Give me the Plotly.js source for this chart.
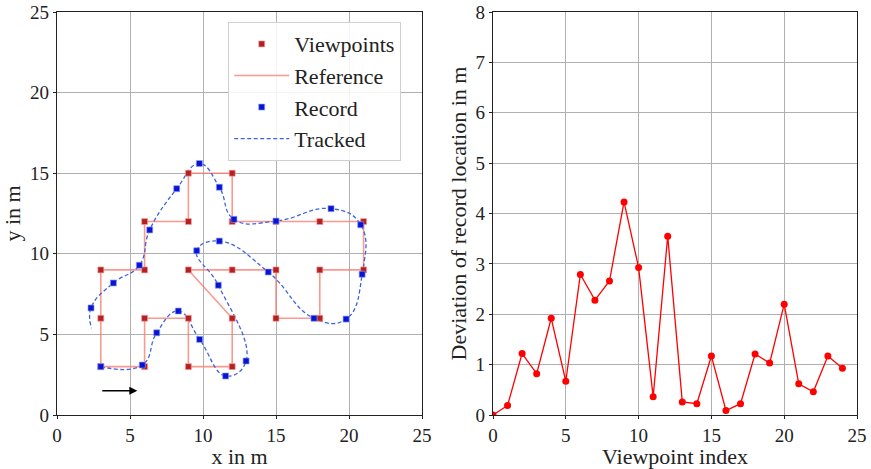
<!DOCTYPE html>
<html>
<head>
<meta charset="utf-8">
<script src="https://cdn.plot.ly/plotly-3.0.1.min.js"></script>
<style>html,body{margin:0;padding:0;background:#fff;}#chart{width:871px;height:469px;}</style>
</head>
<body>
<div id="chart"></div>
<script>
// Viewpoints (reference route, closed loop)
const vpX = [3,6,6,9,9,12,12,9,12,15,15,18,18,21,21,18,15,12,12,9,9,6,6,3,3];
const vpY = [3,3,6,6,3,3,6,9,9,9,6,6,9,9,12,12,12,12,15,15,12,12,9,9,6];
// Record locations
const recX = [3.0,5.84,6.83,8.31,9.77,11.55,12.95,11.05,9.57,11.12,14.47,17.6,19.8,20.9,20.8,18.77,15.0,12.12,11.12,9.75,8.2,6.35,5.64,3.86,2.33];
const recY = [3.0,3.1,5.1,6.45,4.69,2.42,3.35,8.05,10.19,10.79,8.87,6.0,5.95,8.73,11.8,12.8,12.03,12.14,14.13,15.6,14.04,11.48,9.29,8.19,6.64];
// Tracked trajectory end
const tailX = [2.37];
const tailY = [5.38];
// Deviation per viewpoint index
const vpIndex = [0,1,2,3,4,5,6,7,8,9,10,11,12,13,14,15,16,17,18,19,20,21,22,23,24];
const deviation = [0,0.19,1.22,0.82,1.92,0.67,2.79,2.28,2.66,4.23,2.93,0.36,3.55,0.26,0.225,1.17,0.09,0.225,1.21,1.03,2.2,0.62,0.46,1.17,0.93];

const refX = vpX.concat([vpX[0]]);
const refY = vpY.concat([vpY[0]]);
const trkX = recX.concat(tailX);
const trkY = recY.concat(tailY);

const FONT = "Liberation Serif, Times New Roman, serif";
const TRK = {color: '#3c64e0', width: 1.3, dash: '4px,2.5px'};

const traces = [
  {x: refX, y: refY, mode: 'lines', name: 'Reference', line: {color: 'rgba(248,120,105,0.75)', width: 1.6}, xaxis: 'x', yaxis: 'y', showlegend: false},
  {x: trkX, y: trkY, mode: 'lines', name: 'Tracked', line: Object.assign({}, TRK, {shape: 'spline', smoothing: 1.3}), xaxis: 'x', yaxis: 'y', showlegend: false},
  {x: vpX, y: vpY, mode: 'markers', name: 'Viewpoints', marker: {symbol: 'square', size: 6, color: '#b22222', line: {color: 'rgba(255,160,160,0.8)', width: 0.8}}, xaxis: 'x', yaxis: 'y'},
  {x: [null], y: [null], mode: 'lines', name: 'Reference', line: {color: 'rgba(248,120,105,0.75)', width: 1.6}, xaxis: 'x', yaxis: 'y'},
  {x: recX, y: recY, mode: 'markers', name: 'Record', marker: {symbol: 'square', size: 6, color: '#0a14d0', line: {color: 'rgba(140,160,255,0.8)', width: 0.8}}, xaxis: 'x', yaxis: 'y'},
  {x: [null], y: [null], mode: 'lines', name: 'Tracked', line: TRK, xaxis: 'x', yaxis: 'y'},
  {x: vpIndex, y: deviation, mode: 'lines+markers', name: 'Deviation', line: {color: '#ff0000', width: 1.3}, marker: {color: '#ff0000', size: 7}, xaxis: 'x2', yaxis: 'y2', showlegend: false}
];

const axBase = {
  showline: true, mirror: true, linecolor: '#222', linewidth: 1.2,
  showgrid: true, gridcolor: '#b0b0b0', gridwidth: 1,
  zeroline: false, ticks: 'outside', ticklen: 3, tickcolor: '#222',
  tickfont: {family: FONT, size: 19, color: '#222'}
};
const TF = {family: FONT, size: 22, color: '#222'};

const layout = {
  width: 871, height: 469,
  margin: {l: 57, r: 14, t: 12, b: 54},
  paper_bgcolor: '#fff', plot_bgcolor: '#fff',
  font: {family: FONT, size: 20, color: '#222'},
  xaxis: Object.assign({}, axBase, {domain: [0, 0.45625], range: [0, 25], dtick: 5, title: {text: 'x in m', font: TF, standoff: 8}}),
  yaxis: Object.assign({}, axBase, {range: [0, 25], dtick: 5, title: {text: 'y in m', font: TF, standoff: 4}}),
  xaxis2: Object.assign({}, axBase, {domain: [0.545, 1], range: [0, 25], dtick: 5, anchor: 'y2', title: {text: 'Viewpoint index', font: TF, standoff: 8}}),
  yaxis2: Object.assign({}, axBase, {range: [0, 8], dtick: 1, anchor: 'x2', title: {text: 'Deviation of record location in m', font: TF, standoff: 2}}),
  legend: {x: 0.214, y: 0.975, xanchor: 'left', yanchor: 'top', bgcolor: 'rgba(255,255,255,0.85)', bordercolor: '#d0d0d0', borderwidth: 1, font: TF, tracegroupgap: 0, itemwidth: 55},
  annotations: [
    {x: 5.5, y: 1.5, ax: 3, ay: 1.5, xref: 'x', yref: 'y', axref: 'x', ayref: 'y', text: '', showarrow: true, arrowhead: 2, arrowsize: 1, arrowwidth: 1.6, arrowcolor: '#000'}
  ]
};

Plotly.newPlot('chart', traces, layout, {displayModeBar: false, staticPlot: true});
</script>
</body>
</html>
